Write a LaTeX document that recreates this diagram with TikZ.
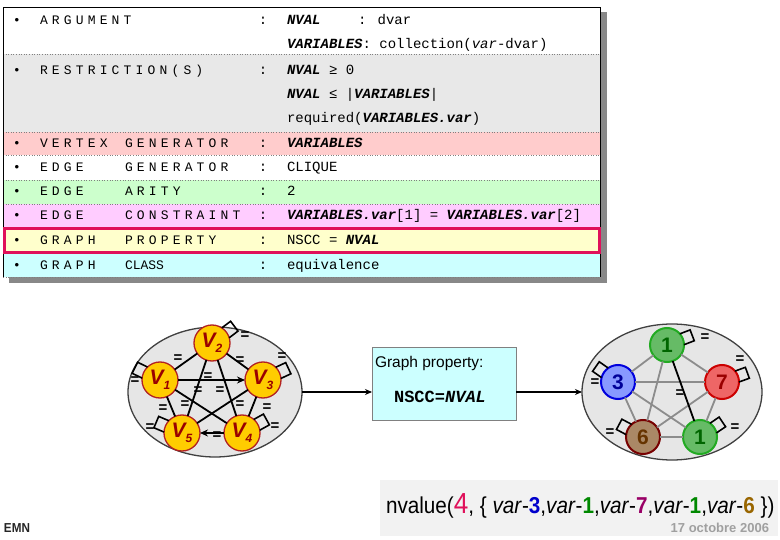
\documentclass[tikz,border=0pt]{standalone}
\usepackage{fontspec}
\setmainfont{Liberation Sans}
\newfontfamily\mono{Liberation Mono}
\newfontfamily\lbl[LetterSpace=32]{Liberation Mono}
\newfontfamily\narrow[FakeStretch=0.9]{Liberation Sans}
\usetikzlibrary{shapes.geometric,arrows.meta,calc}
\definecolor{rowgray}{HTML}{E8E8E8}
\definecolor{rowpink}{HTML}{FFCCCC}
\definecolor{rowgreen}{HTML}{CCFFCC}
\definecolor{rowmag}{HTML}{FFCCFF}
\definecolor{rowyel}{HTML}{FFFFCC}
\definecolor{rowcyan}{HTML}{CCFFFF}
\definecolor{propred}{HTML}{E0105A}
\definecolor{shadowgray}{HTML}{888888}
\definecolor{vfill}{HTML}{FFCC00}
\definecolor{vborder}{HTML}{B22222}
\definecolor{vtext}{HTML}{990000}
\definecolor{ellfill}{HTML}{E6E6E6}
\definecolor{ellline}{HTML}{404040}
\definecolor{gfill}{HTML}{66BB66}
\definecolor{gline}{HTML}{22AA22}
\definecolor{gtext}{HTML}{006600}
\definecolor{bfill}{HTML}{8899FF}
\definecolor{bline}{HTML}{0000DD}
\definecolor{btext}{HTML}{000099}
\definecolor{rfill}{HTML}{EE6666}
\definecolor{rline}{HTML}{CC0000}
\definecolor{rtext}{HTML}{990000}
\definecolor{brfill}{HTML}{AA8866}
\definecolor{brline}{HTML}{770000}
\definecolor{brtext}{HTML}{663300}
\definecolor{edgegray}{HTML}{8C8C8C}
\definecolor{boxcyan}{HTML}{CCFFFF}
\definecolor{botgray}{HTML}{F2F2F2}
\definecolor{dategray}{HTML}{A0A0A0}
\definecolor{nblue}{HTML}{0000CC}
\definecolor{ngreen}{HTML}{008800}
\definecolor{npurple}{HTML}{990066}
\definecolor{nbrown}{HTML}{996600}
\newcommand\bi[1]{{\bfseries\itshape #1}}
\newcommand\sqloop[4]{%
  \draw[#4] ($(#1)+(#2-20:#3)$) -- ($(#1)+(#2-20:#3)+(#2:11)$) -- ($(#1)+(#2+20:#3)+(#2:11)$) -- ($(#1)+(#2+20:#3)$);}
\begin{document}
\begin{tikzpicture}[x=1pt,y=-1pt,
  every node/.style={inner sep=0pt,outer sep=0pt},
  valtext/.style={anchor=base west,font=\mono\fontsize{14}{16}\selectfont},
  lbltext/.style={anchor=base west,font=\lbl\fontsize{13}{14}\selectfont},
  coltext/.style={anchor=base,font=\mono\fontsize{14}{16}\selectfont},
  bul/.style={anchor=base,font=\fontsize{13}{14}\selectfont},
  sep/.style={draw=gray,dotted,line width=0.6pt},
  vnode/.style={circle,minimum size=36pt,fill=vfill,draw=vborder,line width=1.3pt,text=vtext,font=\fontsize{21}{21}\selectfont\bfseries\itshape},
  rnode/.style={circle,minimum size=34pt,line width=2pt,font=\fontsize{21}{21}\selectfont\bfseries},
  eq/.style={font=\fontsize{15}{15}\selectfont\bfseries},
  ledge/.style={line width=1.8pt,black},
  redge/.style={line width=1.8pt,edgegray},
  loopl/.style={line width=1.6pt,black},
  conn/.style={line width=1.2pt,-{Stealth[length=7pt,width=6pt]}},
  ell/.style={ellipse,fill=ellfill,draw=ellline,line width=1.3pt}]
\useasboundingbox (0,0) rectangle (780,540);
% ---------- table ----------
\fill[shadowgray] (9,12) rectangle (607,283);
\fill[white] (3,7) rectangle (600,54);
\fill[rowgray] (3,54) rectangle (600,132);
\fill[rowpink] (3,132) rectangle (600,155);
\fill[white] (3,155) rectangle (600,180);
\fill[rowgreen] (3,180) rectangle (600,204);
\fill[rowmag] (3,204) rectangle (600,227);
\fill[rowyel] (3,227) rectangle (600,253);
\fill[rowcyan] (3,253) rectangle (600,277);
\foreach \yy in {54,132,155,180,204,277} \draw[sep] (3,\yy) -- (600,\yy);
\draw[black,line width=0.8pt] (3,277) -- (3,7) -- (600,7) -- (600,277);
\draw[propred,line width=3pt] (4.5,228.5) rectangle (599,252.5);
% row texts
\node[bul] (b1) at (17,24.5) {•};
\node[lbltext] (l1) at (40,24.5) {ARGUMENT};
\node[coltext] (c1) at (263,24.5) {:};
\node[valtext] (v1a) at (287,24.5) {\bi{NVAL}};
\node[valtext] (v1b) at (358,24.5) {: dvar};
\node[valtext] (v2) at (287,48.5) {\bi{VARIABLES}: collection(\textit{var}-dvar)};
\node[bul] (b3) at (17,74.5) {•};
\node[lbltext] (l3) at (40,74.5) {RESTRICTION(S)};
\node[coltext] (c3) at (263,74.5) {:};
\node[valtext] (v3) at (287,74.5) {\bi{NVAL} ≥ 0};
\node[valtext] (v4) at (287,98.5) {\bi{NVAL} ≤ |\bi{VARIABLES}|};
\node[valtext] (v5) at (287,122.5) {required(\bi{VARIABLES.var})};
\node[bul] (b6) at (17,147.5) {•};
\node[lbltext] (l6a) at (40,147.5) {VERTEX};
\node[lbltext] (l6b) at (125,147.5) {GENERATOR};
\node[coltext] (c6) at (263,147.5) {:};
\node[valtext] (v6) at (287,147.5) {\bi{VARIABLES}};
\node[bul] (b7) at (17,171.5) {•};
\node[lbltext] (l7a) at (40,171.5) {EDGE};
\node[lbltext] (l7b) at (125,171.5) {GENERATOR};
\node[coltext] (c7) at (263,171.5) {:};
\node[valtext] (v7) at (287,171.5) {CLIQUE};
\node[bul] (b8) at (17,195.5) {•};
\node[lbltext] (l8a) at (40,195.5) {EDGE};
\node[lbltext] (l8b) at (125,195.5) {ARITY};
\node[coltext] (c8) at (263,195.5) {:};
\node[valtext] (v8) at (287,195.5) {2};
\node[bul] (b9) at (17,219.5) {•};
\node[lbltext] (l9a) at (40,219.5) {EDGE};
\node[lbltext] (l9b) at (125,219.5) {CONSTRAINT};
\node[coltext] (c9) at (263,219.5) {:};
\node[valtext] (v9) at (287,219.5) {\bi{VARIABLES.var}[1] = \bi{VARIABLES.var}[2]};
\node[bul] (b10) at (17,244.5) {•};
\node[lbltext] (l10a) at (40,244.5) {GRAPH};
\node[lbltext] (l10b) at (125,244.5) {PROPERTY};
\node[coltext] (c10) at (263,244.5) {:};
\node[valtext] (v10) at (287,244.5) {NSCC = \bi{NVAL}};
\node[bul] (b11) at (17,269.5) {•};
\node[lbltext] (l11a) at (40,269.5) {GRAPH};
\node[anchor=base west,font=\mono\fontsize{13}{14}\selectfont] (l11b) at (125,269.5) {CLASS};
\node[coltext] (c11) at (263,269.5) {:};
\node[valtext] (v11) at (287,269.5) {equivalence};
% ---------- left graph ----------
\node[ell,minimum width=174pt,minimum height=130pt] (G1) at (215,392) {};
\node[vnode] (V2) at (212,343) {V\raisebox{-5pt}{\fontsize{12}{12}\selectfont 2}};
\node[vnode] (V1) at (160,380) {V\raisebox{-5pt}{\fontsize{12}{12}\selectfont 1}};
\node[vnode] (V3) at (263,380) {V\raisebox{-5pt}{\fontsize{12}{12}\selectfont 3}};
\node[vnode] (V5) at (182,433) {V\raisebox{-5pt}{\fontsize{12}{12}\selectfont 5}};
\node[vnode] (V4) at (242,433) {V\raisebox{-5pt}{\fontsize{12}{12}\selectfont 4}};
\draw[ledge] (V1) -- (V2);
\draw[ledge] (V2) -- (V3);
\draw[ledge] (V2) -- (V5);
\draw[ledge] (V2) -- (V4);
\draw[ledge] (V1) -- (V5);
\draw[ledge] (V1) -- (V4);
\draw[ledge] (V3) -- (V5);
\draw[ledge] (V3) -- (V4);
\draw[ledge,-{Stealth[length=8pt,width=7pt]}] (V1) -- (V3);
\draw[ledge,-{Stealth[length=8pt,width=7pt]}] (V4) -- (V5);
\sqloop{V2}{-37}{18}{loopl}
\sqloop{V1}{-154}{18}{loopl}
\sqloop{V3}{-25}{18}{loopl}
\sqloop{V5}{-157}{18}{loopl}
\sqloop{V4}{-29}{18}{loopl}
\foreach \p [count=\i] in {{245,336},{178,359},{240,361},{282,357},{135,381},{208,377},{198,391},{220,391},{163,409},{185,405},{240,405},{267,408},{150,428},{275,427},{217,436}}
  \node[eq] (eqL\i) at (\p) {=};
% ---------- middle box ----------
\node[draw=gray,fill=boxcyan,minimum width=144pt,minimum height=73pt,line width=0.6pt] (gp) at (444,383.5) {};
\node[anchor=base west,font=\fontsize{15.5}{17}\selectfont] (gpt) at (375,368) {Graph property:};
\node[font=\mono\bfseries\fontsize{17}{19}\selectfont] (gpv) at (440,397) {NSCC=\textit{NVAL}};
% ---------- right graph ----------
\node[ell,minimum width=180pt,minimum height=136pt] (G2) at (672,392) {};
\node[rnode,fill=gfill,draw=gline,text=gtext] (R1) at (667,345) {1};
\node[rnode,fill=bfill,draw=bline,text=btext] (R3) at (618,382) {3};
\node[rnode,fill=rfill,draw=rline,text=rtext] (R7) at (722,382) {7};
\node[rnode,fill=brfill,draw=brline,text=brtext] (R6) at (643,437) {6};
\node[rnode,fill=gfill,draw=gline,text=gtext] (R1b) at (700,437) {1};
\draw[redge] (R1) -- (R3);
\draw[redge] (R1) -- (R7);
\draw[redge] (R1) -- (R6);
\draw[redge] (R3) -- (R7);
\draw[redge] (R3) -- (R6);
\draw[redge] (R3) -- (R1b);
\draw[redge] (R7) -- (R6);
\draw[redge] (R7) -- (R1b);
\draw[redge] (R6) -- (R1b);
\draw[ledge] (R1) -- (R1b);
\sqloop{R1}{-21}{17}{loopl}
\sqloop{R3}{-145}{17}{loopl}
\sqloop{R7}{-20}{17}{loopl}
\sqloop{R6}{-152}{17}{loopl}
\sqloop{R1b}{-34}{17}{loopl}
\foreach \p [count=\i] in {{705,338},{740,360},{595,383},{680,394},{610,433},{735,428}}
  \node[eq] (eqR\i) at (\p) {=};
% ---------- connectors ----------
\draw[conn] (G1.east) -- (gp.west |- G1.east);
\draw[conn] (gp.east |- G2.west) -- (G2.west);
% ---------- bottom ----------
\fill[botgray] (380,480) rectangle (778,536);
\node[anchor=base west,font=\narrow\fontsize{23}{25}\selectfont] (nv) at (386,513)
  {nvalue({\fontsize{29}{29}\selectfont\color{propred}4}, \{ \textit{var}-\textbf{\color{nblue}3},\textit{var}-\textbf{\color{ngreen}1},\textit{var}-\textbf{\color{npurple}7},\textit{var}-\textbf{\color{ngreen}1},\textit{var}-\textbf{\color{nbrown}6} \})};
\node[anchor=base east,font=\fontsize{13}{14}\selectfont\bfseries,text=dategray] (date) at (769,532) {17 octobre 2006};
\node[anchor=base west,font=\narrow\fontsize{13}{14}\selectfont\bfseries,text=black!85] (emn) at (4,532) {EMN};
\end{tikzpicture}
\end{document}
